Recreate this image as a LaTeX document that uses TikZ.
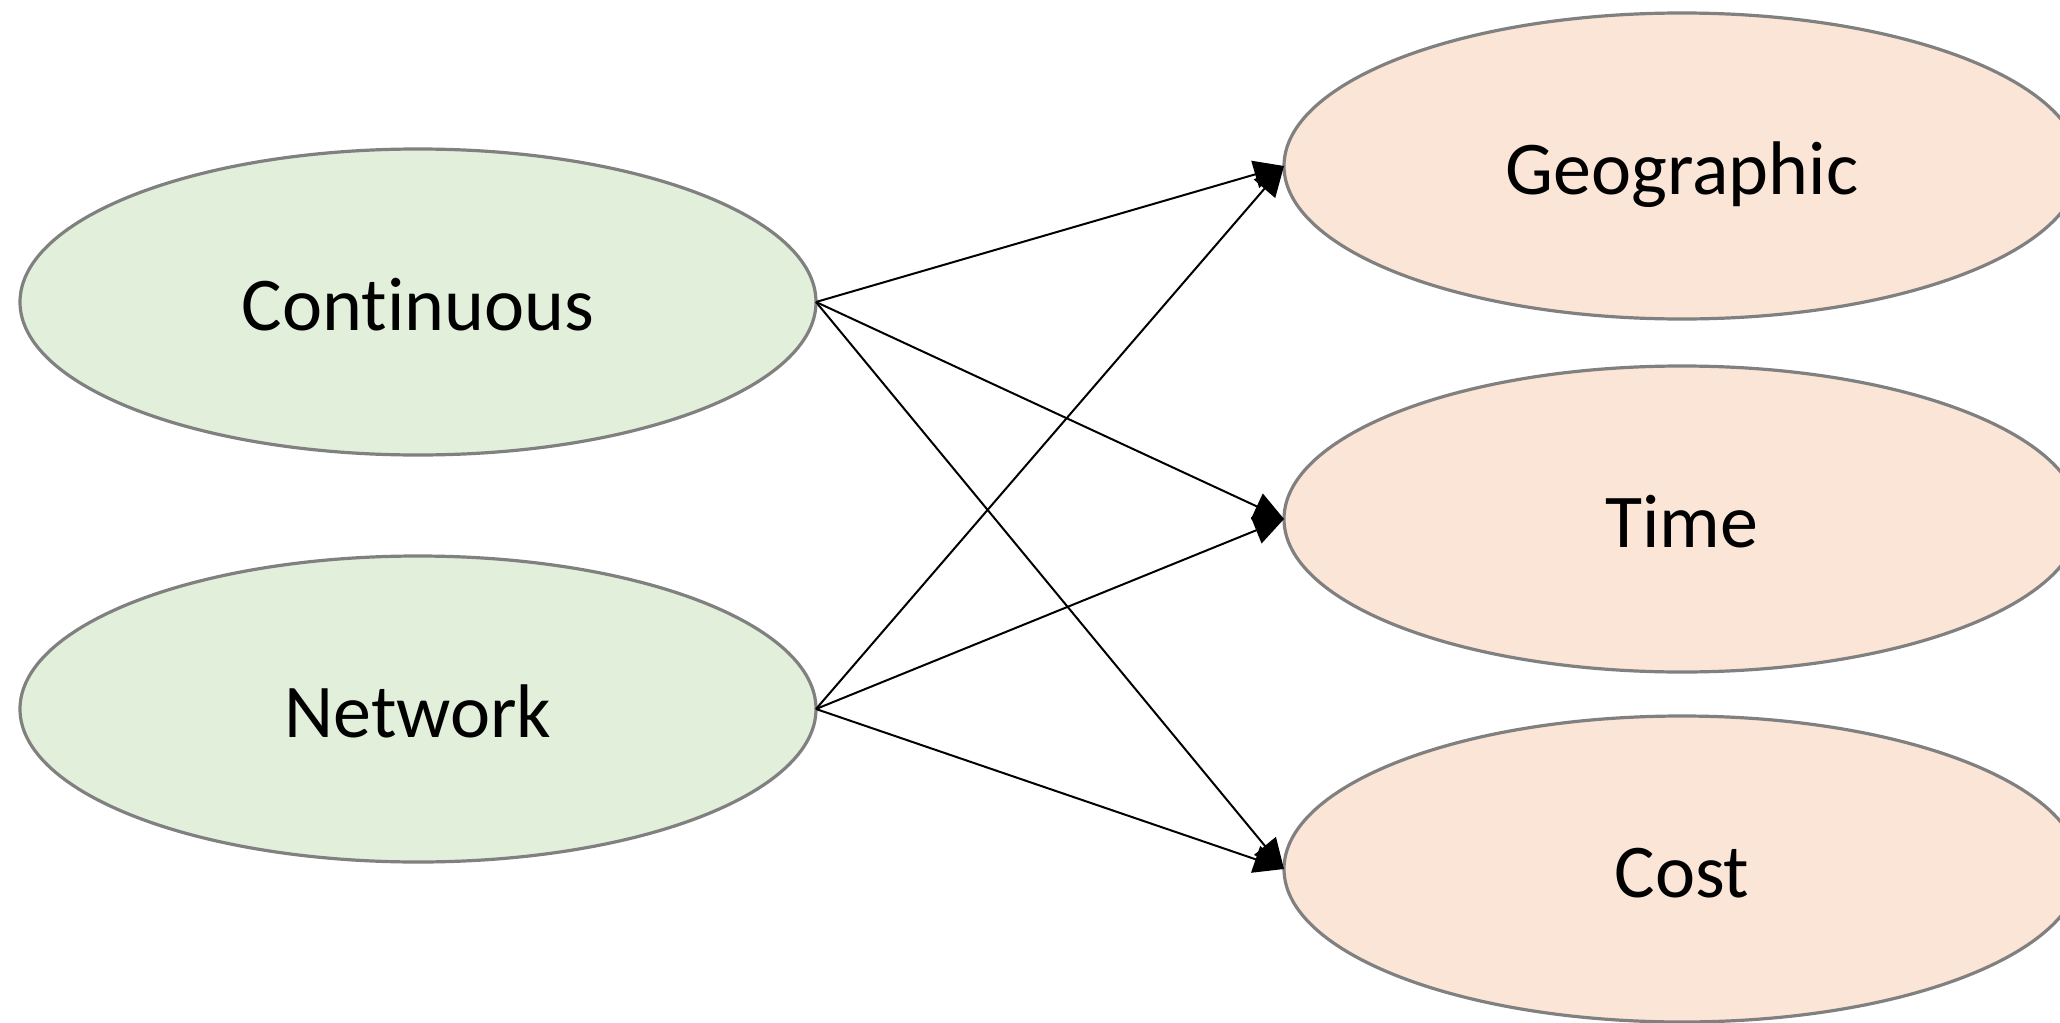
\documentclass[tikz,border=0pt]{standalone}
\usepackage{fontspec}
\setmainfont[Ligatures=NoCommon]{Carlito}
\usetikzlibrary{shapes.geometric,arrows.meta}
\definecolor{srcfill}{RGB}{226,239,218}
\definecolor{dstfill}{RGB}{251,229,214}
\definecolor{rimgray}{RGB}{128,128,128}
\tikzset{
  oval/.style={ellipse, draw=rimgray, line width=1.6pt, inner sep=0pt, outer sep=0pt,
    minimum width=398pt, minimum height=153pt,
    text height=28.5pt, text depth=0pt,
    font=\fontsize{38}{46}\selectfont},
  srcoval/.style={oval, fill=srcfill},
  dstoval/.style={oval, fill=dstfill},
  link/.style={draw=black, line width=1pt, -{Triangle[length=15pt,width=14pt]}}
}
\begin{document}
\begin{tikzpicture}[x=0.5pt,y=-0.5pt]
  \useasboundingbox (0,0) rectangle (2060,1022);
  \clip (0,0) rectangle (2060,1022);
  % source categories
  \node[srcoval] (cont) at (418,302) {Continuous};
  \node[srcoval] (netw) at (418,709) {Network};
  % target dimensions
  \node[dstoval] (geo)  at (1682,166) {Geographic};
  \node[dstoval] (time) at (1682,519) {Time};
  \node[dstoval] (cost) at (1682,869) {Cost};
  % connectors
  \draw[link] (cont.east) -- (geo.west);
  \draw[link] (cont.east) -- (time.west);
  \draw[link] (cont.east) -- (cost.west);
  \draw[link] (netw.east) -- (geo.west);
  \draw[link] (netw.east) -- (time.west);
  \draw[link] (netw.east) -- (cost.west);
\end{tikzpicture}
\end{document}
